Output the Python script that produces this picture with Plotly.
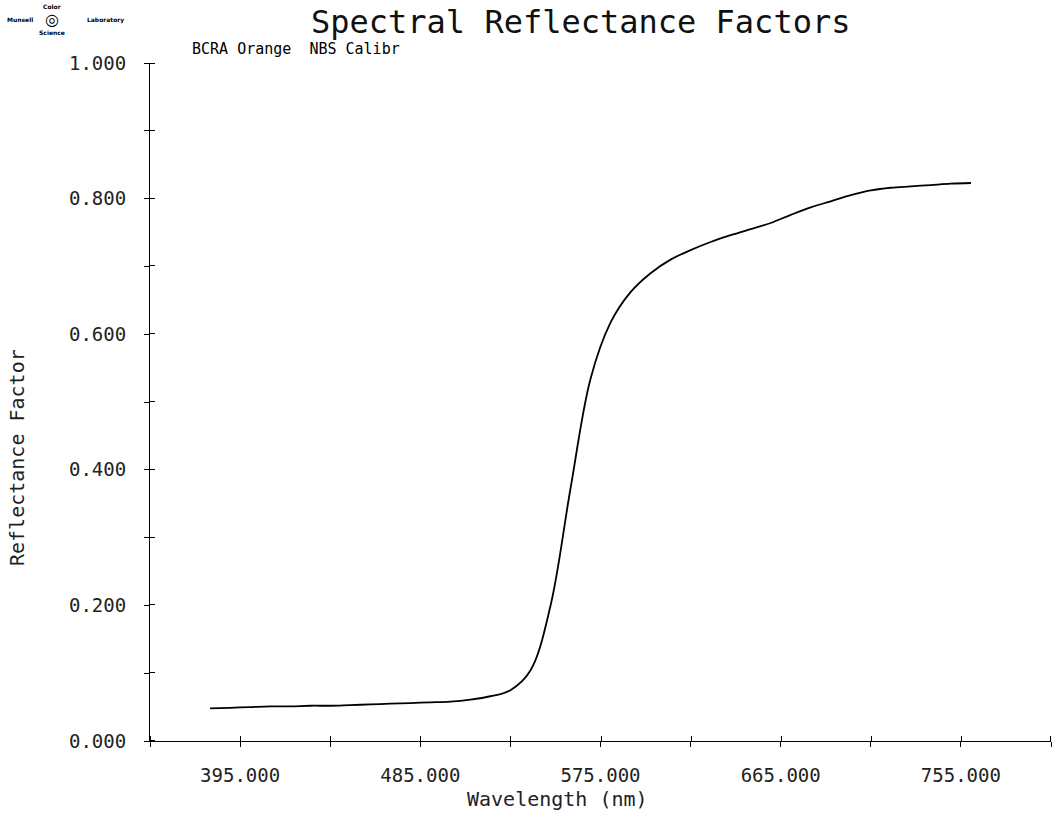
import plotly.graph_objects as go

wavelength = [380, 390, 400, 410, 420, 430, 440, 450, 460, 470, 480, 490, 500,
              510, 520, 530, 540, 550, 560, 570, 580, 590, 600, 610, 620, 630,
              640, 650, 660, 670, 680, 690, 700, 710, 720, 730, 740, 750, 760]
reflectance = [0.048, 0.049, 0.050, 0.051, 0.051, 0.052, 0.052, 0.053, 0.054,
               0.055, 0.056, 0.057, 0.058, 0.061, 0.066, 0.075, 0.104, 0.199,
               0.372, 0.534, 0.617, 0.662, 0.690, 0.710, 0.724, 0.736, 0.746,
               0.755, 0.764, 0.776, 0.787, 0.796, 0.805, 0.812, 0.816, 0.818,
               0.820, 0.822, 0.823]

x_tickvals = [350, 395, 440, 485, 530, 575, 620, 665, 710, 755, 800]
x_ticktext = ["", "395.000", "", "485.000", "", "575.000", "", "665.000", "", "755.000", ""]
y_tickvals = [0.0, 0.1, 0.2, 0.3, 0.4, 0.5, 0.6, 0.7, 0.8, 0.9, 1.0]
y_ticktext = ["0.000", "", "0.200", "", "0.400", "", "0.600", "", "0.800", "", "1.000"]

title_text = "Spectral Reflectance Factors"
subtitle_text = "BCRA Orange  NBS Calibr"
x_title = "Wavelength (nm)"
y_title = "Reflectance Factor"

FONT = "DejaVu Sans Mono"

# inward half of the crossing tick marks (tiny offset so they are not merged with major ticks)
x_minor = [v - 0.25 if v == x_tickvals[-1] else v + 0.25 for v in x_tickvals]
y_minor = [v - 0.0008 if v == y_tickvals[-1] else v + 0.0008 for v in y_tickvals]

fig = go.Figure()
fig.add_trace(go.Scatter(x=wavelength, y=reflectance, mode="lines",
                         line=dict(color="black", width=1.8, shape="spline"),
                         showlegend=False, hoverinfo="skip"))

axis_common = dict(showgrid=False, zeroline=False, showline=True, linecolor="black",
                   linewidth=1, tickcolor="black", tickwidth=1)

fig.update_layout(
    width=1060, height=817,
    margin=dict(l=150, r=9, t=63, b=76),
    paper_bgcolor="white", plot_bgcolor="white",
    font=dict(family=FONT, color="black"),
    xaxis=dict(range=[350, 800], tickmode="array", tickvals=x_tickvals, ticktext=x_ticktext,
               ticks="outside", ticklen=5, tickfont=dict(size=19, family=FONT, color="#222"),
               ticklabelstandoff=12,
               minor=dict(tickmode="array", tickvals=x_minor, ticks="inside", ticklen=5,
                          tickcolor="black", tickwidth=1, showgrid=False),
               **axis_common),
    yaxis=dict(range=[0, 1.0], tickmode="array", tickvals=y_tickvals, ticktext=y_ticktext,
               ticks="outside", ticklen=5, tickfont=dict(size=19, family=FONT, color="#222"),
               ticklabelstandoff=14,
               minor=dict(tickmode="array", tickvals=y_minor, ticks="inside", ticklen=5,
                          tickcolor="black", tickwidth=1, showgrid=False),
               **axis_common),
)

fig.add_annotation(text=title_text, xref="paper", yref="paper",
                   x=(580 - 150) / 901, y=1 + (63 - 22) / 678, xanchor="center", yanchor="middle",
                   showarrow=False, font=dict(size=32, family=FONT, color="#111"))
fig.add_annotation(text=subtitle_text, xref="paper", yref="paper",
                   x=(190 - 150) / 901, y=1 + (63 - 49) / 678, xanchor="left", yanchor="middle",
                   showarrow=False, font=dict(size=15, family=FONT, color="black"))
fig.add_annotation(text=x_title, xref="paper", yref="paper",
                   x=(557 - 150) / 901, y=-(799 - 741) / 678, xanchor="center", yanchor="middle",
                   showarrow=False, font=dict(size=20, family=FONT, color="#222"))
fig.add_annotation(text=y_title, xref="paper", yref="paper", textangle=-90,
                   x=-(150 - 17) / 901, y=(741 - 458) / 678, xanchor="center", yanchor="middle",
                   showarrow=False, font=dict(size=20, family=FONT, color="#222"))

# small logo approximation (text only)
logo_parts = [("Color", 52, 7), ("Munsell", 20, 20), ("Laboratory", 105, 20), ("Science", 52, 33)]
for txt, lx, ly in logo_parts:
    fig.add_annotation(text="<b>" + txt + "</b>", xref="paper", yref="paper",
                       x=(lx - 150) / 901, y=1 + (63 - ly) / 678, xanchor="center", yanchor="middle",
                       showarrow=False, font=dict(size=6, family="DejaVu Sans", color="black"))
fig.add_annotation(text="◎", xref="paper", yref="paper",
                   x=(52 - 150) / 901, y=1 + (63 - 20) / 678, xanchor="center", yanchor="middle",
                   showarrow=False, font=dict(size=16, family="DejaVu Sans", color="black"))

fig.write_html("out.html")
